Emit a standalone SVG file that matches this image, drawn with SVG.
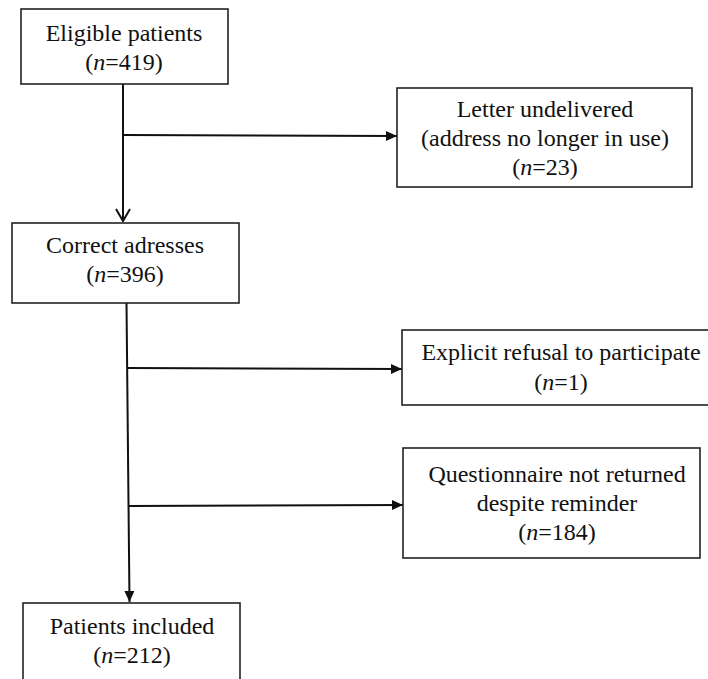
<svg xmlns="http://www.w3.org/2000/svg" width="708" height="679" viewBox="0 0 708 679">
<defs>
<style>
.box{fill:#fff;stroke:#222;stroke-width:1.6}
.t{font-family:"Liberation Serif","Times New Roman",serif;font-size:24px;fill:#111;text-anchor:middle}
.i{font-style:italic}
.c{fill:none;stroke:#111;stroke-width:2}
</style>
<marker id="tri" markerWidth="12" markerHeight="12" refX="11" refY="6" orient="auto" markerUnits="userSpaceOnUse">
<path d="M0,1 L11,6 L0,11 Z" fill="#111"/>
</marker>
<marker id="vee" markerWidth="16" markerHeight="16" refX="15" refY="8" orient="auto" markerUnits="userSpaceOnUse">
<path d="M3,1 L15,8 L3,15" fill="none" stroke="#111" stroke-width="2"/>
</marker>
</defs>
<rect width="708" height="679" fill="#fff"/>
<g id="connectors">
<line class="c" x1="123" y1="84" x2="123" y2="221" marker-end="url(#vee)"/>
<line class="c" x1="123" y1="135" x2="397" y2="136" marker-end="url(#tri)"/>
<line class="c" x1="126.5" y1="303" x2="129.5" y2="602" marker-end="url(#tri)"/>
<line class="c" x1="128" y1="368" x2="402" y2="369" marker-end="url(#tri)"/>
<line class="c" x1="129" y1="506" x2="403" y2="505" marker-end="url(#tri)"/>
</g>
<g id="eligible">
<rect class="box" x="21" y="9" width="207" height="75"/>
<text class="t" x="124" y="41">Eligible patients</text>
<text class="t" x="124" y="70">(<tspan class="i">n</tspan>=419)</text>
</g>
<g id="undelivered">
<rect class="box" x="397" y="88" width="295" height="99"/>
<text class="t" x="545" y="117">Letter undelivered</text>
<text class="t" x="545" y="146">(address no longer in use)</text>
<text class="t" x="545" y="175">(<tspan class="i">n</tspan>=23)</text>
</g>
<g id="correct">
<rect class="box" x="12" y="223" width="227" height="80"/>
<text class="t" x="125" y="253">Correct adresses</text>
<text class="t" x="125" y="282">(<tspan class="i">n</tspan>=396)</text>
</g>
<g id="refusal">
<rect class="box" x="402" y="330" width="320" height="75"/>
<text class="t" x="561" y="360">Explicit refusal to participate</text>
<text class="t" x="561" y="390">(<tspan class="i">n</tspan>=1)</text>
</g>
<g id="notreturned">
<rect class="box" x="403" y="448" width="297" height="110"/>
<text class="t" x="557" y="482">Questionnaire not returned</text>
<text class="t" x="557" y="511">despite reminder</text>
<text class="t" x="557" y="540">(<tspan class="i">n</tspan>=184)</text>
</g>
<g id="included">
<rect class="box" x="23" y="603" width="217" height="90"/>
<text class="t" x="132" y="634">Patients included</text>
<text class="t" x="132" y="663">(<tspan class="i">n</tspan>=212)</text>
</g>
</svg>
